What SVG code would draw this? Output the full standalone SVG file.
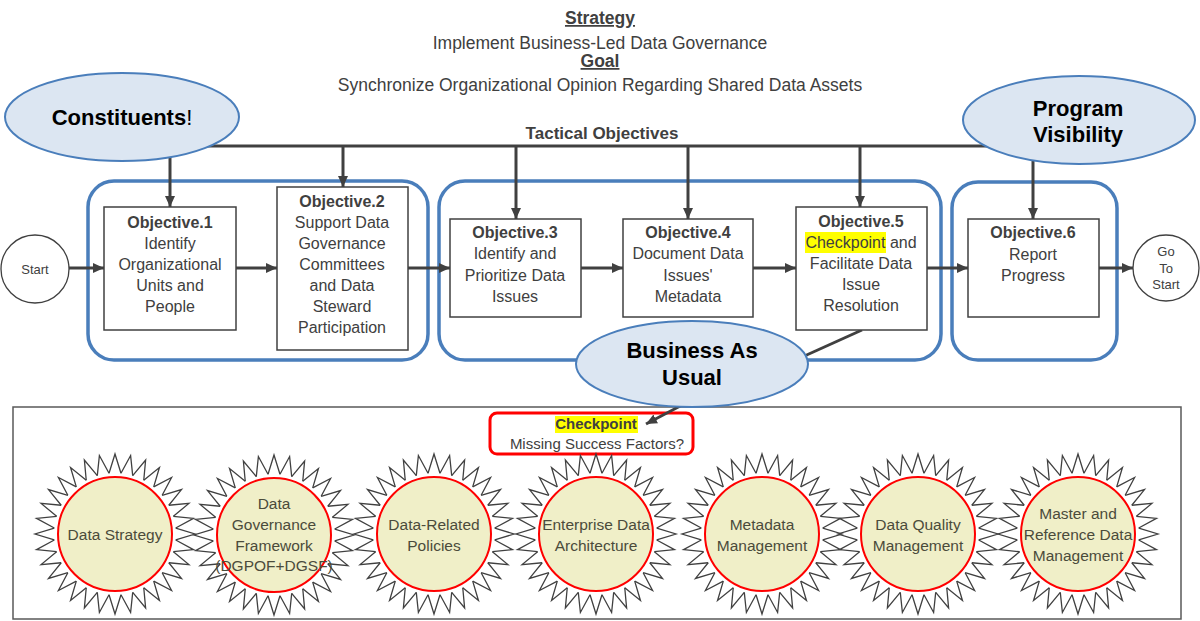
<svg xmlns="http://www.w3.org/2000/svg" xmlns:xlink="http://www.w3.org/1999/xlink" width="1200" height="621" viewBox="0 0 1200 621">
<style>
text{font-family:"Liberation Sans",Arial,sans-serif;}
.t{fill:#404040;font-size:17.5px;text-anchor:middle;}
.tb{fill:#404040;font-size:17.5px;font-weight:bold;text-anchor:middle;text-decoration:underline;}
.grp{fill:none;stroke:#4a7ebb;stroke-width:3.5;}
.obj{fill:#fff;stroke:#404040;stroke-width:1.5;}
.ot{fill:#404040;font-size:16px;text-anchor:middle;}
.oh{font-weight:bold;}
.con{stroke:#404040;stroke-width:3;fill:none;}
.ell{fill:#dce6f2;stroke:#4a7ebb;stroke-width:2;}
.et{fill:#000;font-size:22px;font-weight:bold;text-anchor:middle;}
.term{fill:#fff;stroke:#404040;stroke-width:1.3;}
.tt{fill:#404040;font-size:13px;text-anchor:middle;}
.circ{fill:#f0efc8;stroke:#ff0000;stroke-width:2;}
.ct{fill:#4b4b3b;font-size:15.5px;text-anchor:middle;}
.hl{fill:#ffff00;}
</style>
<defs>
<marker id="arr" markerUnits="userSpaceOnUse" markerWidth="12" markerHeight="12" refX="11" refY="6" orient="auto">
<path d="M0,1 L11,6 L0,11 z" fill="#404040"/>
</marker>
<path id="tooth" d="M-5.98,-60.71 L0,-80 L5.98,-60.71" fill="none" stroke="#404040" stroke-width="1.3" stroke-linejoin="miter"/>
<g id="star">
<use href="#tooth" transform="rotate(0)"/><use href="#tooth" transform="rotate(11.25)"/><use href="#tooth" transform="rotate(22.5)"/><use href="#tooth" transform="rotate(33.75)"/>
<use href="#tooth" transform="rotate(45)"/><use href="#tooth" transform="rotate(56.25)"/><use href="#tooth" transform="rotate(67.5)"/><use href="#tooth" transform="rotate(78.75)"/>
<use href="#tooth" transform="rotate(90)"/><use href="#tooth" transform="rotate(101.25)"/><use href="#tooth" transform="rotate(112.5)"/><use href="#tooth" transform="rotate(123.75)"/>
<use href="#tooth" transform="rotate(135)"/><use href="#tooth" transform="rotate(146.25)"/><use href="#tooth" transform="rotate(157.5)"/><use href="#tooth" transform="rotate(168.75)"/>
<use href="#tooth" transform="rotate(180)"/><use href="#tooth" transform="rotate(191.25)"/><use href="#tooth" transform="rotate(202.5)"/><use href="#tooth" transform="rotate(213.75)"/>
<use href="#tooth" transform="rotate(225)"/><use href="#tooth" transform="rotate(236.25)"/><use href="#tooth" transform="rotate(247.5)"/><use href="#tooth" transform="rotate(258.75)"/>
<use href="#tooth" transform="rotate(270)"/><use href="#tooth" transform="rotate(281.25)"/><use href="#tooth" transform="rotate(292.5)"/><use href="#tooth" transform="rotate(303.75)"/>
<use href="#tooth" transform="rotate(315)"/><use href="#tooth" transform="rotate(326.25)"/><use href="#tooth" transform="rotate(337.5)"/><use href="#tooth" transform="rotate(348.75)"/>
</g>
</defs>
<rect width="1200" height="621" fill="#fff"/>

<g id="title">
<text class="tb" x="600" y="24">Strategy</text>
<text class="t" x="600" y="49">Implement Business-Led Data Governance</text>
<text class="tb" x="600" y="67">Goal</text>
<text class="t" x="600" y="91">Synchronize Organizational Opinion Regarding Shared Data Assets</text>
<text x="602" y="139" fill="#404040" font-size="17px" font-weight="bold" text-anchor="middle">Tactical Objectives</text>
</g>

<g id="groups">
<rect id="group1" class="grp" x="88" y="181" width="340" height="179" rx="26"/>
<rect id="group2" class="grp" x="439" y="181" width="502" height="179" rx="26"/>
<rect id="group3" class="grp" x="952" y="182" width="165" height="178" rx="26"/>
</g>

<g id="success-factors">
<rect x="13" y="407" width="1168" height="212" fill="none" stroke="#595959" stroke-width="1.5"/>
</g>

<g id="checkpoint">
<rect x="490" y="413" width="203" height="41" rx="7" fill="#fff" stroke="#ff0000" stroke-width="3"/>
<rect class="hl" x="555" y="416" width="83" height="17"/>
<text x="596" y="429" fill="#404040" font-size="15px" font-weight="bold" text-anchor="middle">Checkpoint</text>
<text x="597" y="449" fill="#404040" font-size="15px" text-anchor="middle">Missing Success Factors?</text>
</g>

<g id="connectors">
<line class="con" x1="150" y1="146" x2="1040" y2="146"/>
<line class="con" x1="170" y1="146" x2="170" y2="207" marker-end="url(#arr)"/>
<line class="con" x1="343" y1="146" x2="343" y2="187" marker-end="url(#arr)"/>
<line class="con" x1="516" y1="146" x2="516" y2="219" marker-end="url(#arr)"/>
<line class="con" x1="688" y1="146" x2="688" y2="219" marker-end="url(#arr)"/>
<line class="con" x1="860" y1="146" x2="860" y2="207" marker-end="url(#arr)"/>
<line class="con" x1="1033" y1="146" x2="1033" y2="219" marker-end="url(#arr)"/>
<line class="con" x1="69" y1="268" x2="104" y2="268" marker-end="url(#arr)"/>
<line class="con" x1="236" y1="268" x2="277" y2="268" marker-end="url(#arr)"/>
<line class="con" x1="408" y1="268" x2="450" y2="268" marker-end="url(#arr)"/>
<line class="con" x1="581" y1="268" x2="623" y2="268" marker-end="url(#arr)"/>
<line class="con" x1="753" y1="268" x2="796" y2="268" marker-end="url(#arr)"/>
<line class="con" x1="927" y1="268" x2="968" y2="268" marker-end="url(#arr)"/>
<line class="con" x1="1099" y1="268" x2="1133" y2="268" marker-end="url(#arr)"/>
<line class="con" x1="862" y1="330" x2="800" y2="358"/>
<line class="con" x1="684" y1="404" x2="646" y2="424" stroke-width="2.5" marker-end="url(#arr)"/>
</g>

<g id="start">
<circle class="term" cx="35" cy="269" r="34"/>
<text class="tt" x="35" y="274">Start</text>
</g>
<g id="gotostart">
<circle class="term" cx="1166" cy="268" r="33"/>
<text class="tt" x="1166" y="256">Go</text>
<text class="tt" x="1166" y="273">To</text>
<text class="tt" x="1166" y="289">Start</text>
</g>

<g id="obj1">
<rect class="obj" x="104" y="207" width="132" height="123"/>
<text class="ot oh" x="170" y="228">Objective.1</text>
<text class="ot" x="170" y="249">Identify</text>
<text class="ot" x="170" y="270">Organizational</text>
<text class="ot" x="170" y="291">Units and</text>
<text class="ot" x="170" y="312">People</text>
</g>
<g id="obj2">
<rect class="obj" x="277" y="187" width="131" height="163"/>
<text class="ot oh" x="342" y="207">Objective.2</text>
<text class="ot" x="342" y="228">Support Data</text>
<text class="ot" x="342" y="249">Governance</text>
<text class="ot" x="342" y="270">Committees</text>
<text class="ot" x="342" y="291">and Data</text>
<text class="ot" x="342" y="312">Steward</text>
<text class="ot" x="342" y="333">Participation</text>
</g>
<g id="obj3">
<rect class="obj" x="450" y="219" width="131" height="98"/>
<text class="ot oh" x="515" y="238">Objective.3</text>
<text class="ot" x="515" y="259">Identify and</text>
<text class="ot" x="515" y="281">Prioritize Data</text>
<text class="ot" x="515" y="302">Issues</text>
</g>
<g id="obj4">
<rect class="obj" x="623" y="219" width="130" height="98"/>
<text class="ot oh" x="688" y="238">Objective.4</text>
<text class="ot" x="688" y="259">Document Data</text>
<text class="ot" x="688" y="281">Issues'</text>
<text class="ot" x="688" y="302">Metadata</text>
</g>
<g id="obj5">
<rect class="obj" x="796" y="207" width="131" height="123"/>
<rect class="hl" x="805" y="232" width="81" height="21"/>
<text class="ot oh" x="861" y="227">Objective.5</text>
<text class="ot" x="861" y="248">Checkpoint and</text>
<text class="ot" x="861" y="269">Facilitate Data</text>
<text class="ot" x="861" y="290">Issue</text>
<text class="ot" x="861" y="311">Resolution</text>
</g>
<g id="obj6">
<rect class="obj" x="968" y="219" width="131" height="98"/>
<text class="ot oh" x="1033" y="238">Objective.6</text>
<text class="ot" x="1033" y="260">Report</text>
<text class="ot" x="1033" y="281">Progress</text>
</g>

<g id="constituents">
<ellipse class="ell" cx="122" cy="117" rx="117" ry="44"/>
<text class="et" x="122" y="125">Constituents<tspan font-weight="normal">!</tspan></text>
</g>
<g id="program-visibility">
<ellipse class="ell" cx="1079" cy="120" rx="116" ry="44"/>
<text class="et" x="1078" y="116">Program</text>
<text class="et" x="1078" y="142">Visibility</text>
</g>
<g id="business-as-usual">
<ellipse class="ell" cx="692" cy="364" rx="116" ry="43"/>
<text class="et" x="692" y="358">Business As</text>
<text class="et" x="692" y="385">Usual</text>
</g>

<g id="sf1">
<use href="#star" x="115" y="534"/>
<circle class="circ" cx="115" cy="534" r="57"/>
<text class="ct" x="115" y="540">Data Strategy</text>
</g>
<g id="sf2">
<use href="#star" x="274" y="535"/>
<circle class="circ" cx="274" cy="535" r="57"/>
<text class="ct" x="274" y="509">Data</text>
<text class="ct" x="274" y="530">Governance</text>
<text class="ct" x="274" y="551">Framework</text>
<text class="ct" x="274" y="571">(DGPOF+DGSF)</text>
</g>
<g id="sf3">
<use href="#star" x="434" y="534"/>
<circle class="circ" cx="434" cy="534" r="57"/>
<text class="ct" x="434" y="530">Data-Related</text>
<text class="ct" x="434" y="551">Policies</text>
</g>
<g id="sf4">
<use href="#star" x="596" y="534"/>
<circle class="circ" cx="596" cy="534" r="57"/>
<text class="ct" x="596" y="530">Enterprise Data</text>
<text class="ct" x="596" y="551">Architecture</text>
</g>
<g id="sf5">
<use href="#star" x="762" y="534"/>
<circle class="circ" cx="762" cy="534" r="57"/>
<text class="ct" x="762" y="530">Metadata</text>
<text class="ct" x="762" y="551">Management</text>
</g>
<g id="sf6">
<use href="#star" x="918" y="534"/>
<circle class="circ" cx="918" cy="534" r="57"/>
<text class="ct" x="918" y="530">Data Quality</text>
<text class="ct" x="918" y="551">Management</text>
</g>
<g id="sf7">
<use href="#star" x="1078" y="534"/>
<circle class="circ" cx="1078" cy="534" r="57"/>
<text class="ct" x="1078" y="519">Master and</text>
<text class="ct" x="1078" y="540">Reference Data</text>
<text class="ct" x="1078" y="561">Management</text>
</g>
</svg>
